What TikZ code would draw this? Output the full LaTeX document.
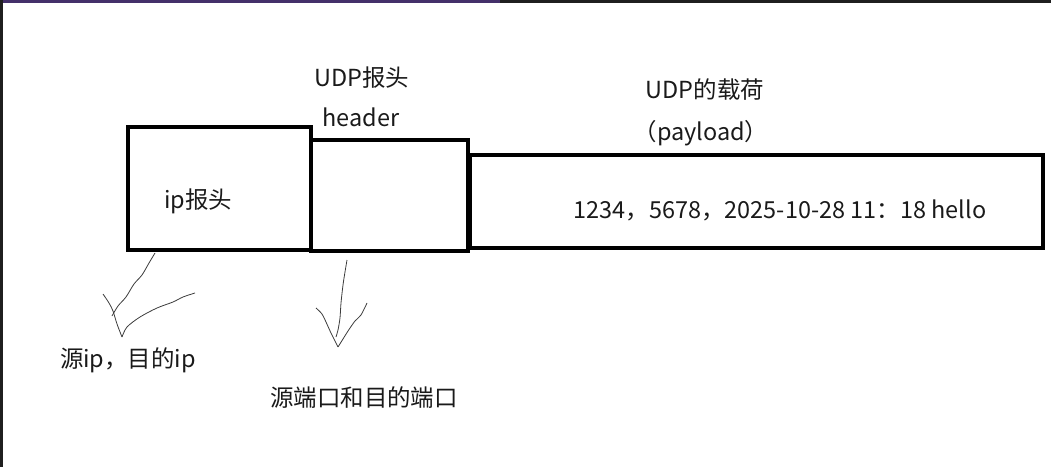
\documentclass[tikz,border=0pt]{standalone}
\usepackage{fontspec}
\setmainfont{Noto Sans CJK SC}
\usetikzlibrary{positioning}

\definecolor{inkgray}{RGB}{26,26,26}
\definecolor{barpurple}{RGB}{68,48,106}
\definecolor{bardark}{RGB}{31,31,31}

\begin{document}
\begin{tikzpicture}[
  x=0.75pt, y=-0.75pt,
  box/.style={draw, line width=3pt, inner sep=0pt},
  lbl/.style={text=inkgray, font=\fontsize{17.6}{20}\selectfont, inner sep=0pt},
  stroke/.style={draw=inkgray!85, line width=0.6pt, line join=round}
]

\useasboundingbox (0,0) rectangle (1051,467);

% -------------------------
% SCREEN EDGES
% -------------------------
\fill[bardark] (0,0) rectangle (1051,3);
\fill[barpurple] (0,0) rectangle (500,3);
\fill[bardark] (0,0) rectangle (3,467);

% -------------------------
% PACKET BOXES
% -------------------------
\node[box, minimum width=137.25pt, minimum height=92.25pt] (iphdr) at (219.5,188.5) {};
\node[box, minimum width=117.75pt, minimum height=83.25pt] (udphdr) at (389.5,195.5) {};
\node[box, minimum width=429.75pt, minimum height=69.75pt] (payload) at (756.5,201.5) {};

% texts
\node[lbl] (iptext) at (198,201) {ip报头};
\node[lbl] (udptitle) at (362,78) {UDP报头};
\node[lbl] (udpsub) at (361,117) {header};
\node[lbl] (paytitle) at (705,90) {UDP的载荷};
\node[lbl] (paysub) at (701,133) {（payload）};
\node[lbl] (paytext) at (780,210) {1234，5678，2025-10-28 11：18 hello};

\node[lbl] (ipnote) at (128,360) {源ip，目的ip};
\node[lbl] (portnote) at (364,398) {源端口和目的端口};

% -------------------------
% HAND DRAWN ARROWS
% -------------------------
\coordinate (ipfrom) at (155,253);
\coordinate (portfrom) at (347,260);

% ip header -> addresses
\draw[stroke] plot[smooth] coordinates {(ipfrom) (149,263) (142,275) (134,284) (126,297) (118,306) (112,316)};
\draw[stroke] plot[smooth] coordinates {(103,294) (109,303) (113,311) (117,324) (122,337)};
\draw[stroke] plot[smooth] coordinates {(122,337) (127,327) (140,317) (157,308) (173,302) (183,297) (195,293)};

% udp header -> ports
\draw[stroke] plot[smooth] coordinates {(portfrom) (345,272) (343,285) (341,303) (340,318) (338,330) (336,337)};
\draw[stroke] plot[smooth] coordinates {(316,308) (322,314) (326,322) (331,333) (338,347)};
\draw[stroke] plot[smooth] coordinates {(338,347) (343,339) (348,331) (355,321) (361,315) (367,303)};

\end{tikzpicture}
\end{document}
